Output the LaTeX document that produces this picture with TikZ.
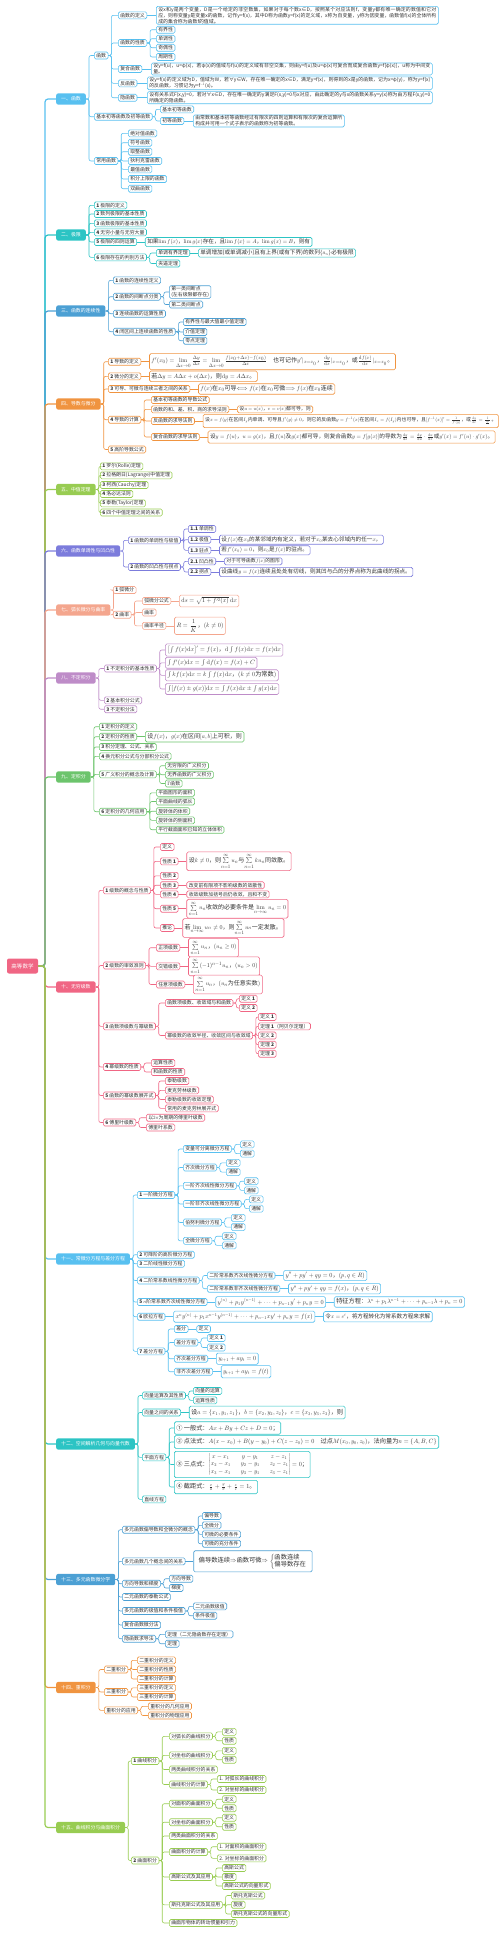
\documentclass[tikz,border=0pt]{standalone}
\usepackage{amsmath,amssymb}
\DeclareFontShape{OT1}{cmr}{m}{n}{<->cmr10}{}
\DeclareFontShape{OML}{cmm}{m}{it}{<->cmmi10}{}
\DeclareFontShape{OMS}{cmsy}{m}{n}{<->cmsy10}{}
\DeclareFontShape{OMX}{cmex}{m}{n}{<->cmex10}{}
\usepackage[no-math]{fontspec}
\setmainfont{Noto Sans CJK SC}
\XeTeXlinebreaklocale "zh"
\XeTeXlinebreakskip=0pt plus 1pt
\usetikzlibrary{positioning}
\definecolor{cA}{RGB}{88,192,240}
\definecolor{cB}{RGB}{44,196,196}
\definecolor{cC}{RGB}{76,160,212}
\definecolor{cD}{RGB}{240,148,64}
\definecolor{cE}{RGB}{152,204,82}
\definecolor{cF}{RGB}{124,124,220}
\definecolor{cG}{RGB}{244,166,142}
\definecolor{cH}{RGB}{190,140,200}
\definecolor{cI}{RGB}{108,196,108}
\definecolor{cJ}{RGB}{240,102,132}
\colorlet{bcol}{cA}
\begin{document}
\begin{tikzpicture}[x=1pt,y=-1pt,font=\fontsize{4.9}{5.9}\selectfont,node distance=8pt,
  root/.style={fill=cJ,text=white,rounded corners=2pt,minimum width=31pt,minimum height=15pt,font=\fontsize{5.5}{6.5}\selectfont},
  brn/.style={fill=#1,text=white,rounded corners=2pt,minimum height=10pt,inner xsep=5pt,anchor=west},
  nd/.style={draw=bcol,fill=white,rounded corners=1.5pt,line width=0.6pt,minimum height=7pt,inner xsep=2pt,inner ysep=0.8pt,anchor=west,text=black!80},
  tx/.style={nd,align=justify,text width=#1},
  mth/.style={nd,inner ysep=1.5pt,font=\fontsize{5.6}{6.6}\selectfont},
  meq/.style={mth,inner ysep=2pt,font=\fontsize{6.2}{7.2}\selectfont},
  msum/.style={mth,inner ysep=2pt,font=\fontsize{6}{7}\selectfont},
  lk/.style={draw=bcol,line width=0.6pt,rounded corners=2pt},
  rlk/.style={draw=#1,line width=1.2pt,rounded corners=3pt}]
\useasboundingbox (0,0) rectangle (503,1933);
\node[root] (root) at (22.5,966) {高等数学};
\coordinate (trunk) at (45,966);

% 一、函数
\colorlet{bcol}{cA}
\node[brn=cA] (b1) at (56,99) {一、函数};
\draw[rlk=cA] (root.east) -- (trunk) |- (b1.west);
\node[nd] (b1a) at (94,55.5) {函数};
\node[nd] (b1b) at (94,116.7) {基本初等函数及初等函数};
\node[nd] (b1c) at (94,161) {常用函数};
\foreach \k in {b1a,b1b,b1c} \draw[lk] (b1.east) -- ++(3,0) |- (\k.west);
\node[nd] (b1a1) at (118,15.3) {函数的定义};
\node[nd] (b1a2) at (118,43) {函数的性质};
\node[nd] (b1a3) at (118,69) {复合函数};
\node[nd] (b1a4) at (118,83.3) {反函数};
\node[nd] (b1a5) at (118,97.7) {隐函数};
\foreach \k in {b1a1,b1a2,b1a3,b1a4,b1a5} \draw[lk] (b1a.east) -- ++(3,0) |- (\k.west);
\node[tx=278pt] (b1a1t) at (156,15.3) {设x和y是两个变量，D是一个给定的非空数集，如果对于每个数x∈D，按照某个对应法则f，变量y都有唯一确定的数值和它对应，则称变量y是变量x的函数，记作y=f(x)，其中D称为函数y=f(x)的定义域，x称为自变量，y称为因变量，函数值f(x)的全体所构成的集合称为函数f的值域。};
\draw[lk] (b1a1) -- (b1a1t);
\foreach \i/\y/\t in {1/29.7/有界性,2/38.7/单调性,3/47.7/奇偶性,4/57/周期性}{
  \node[nd] (b1a2\i) at (156,\y) {\t};
  \draw[lk] (b1a2.east) -- ++(3,0) |- (b1a2\i.west);}
\node[tx=277pt] (b1a3t) at (151,69) {设y=f(u)，u=φ(x)，若φ(x)的值域与f(u)的定义域有非空交集，则由y=f(u)及u=φ(x)可复合而成复合函数y=f[φ(x)]，u称为中间变量。};
\node[tx=281pt] (b1a4t) at (147,83.3) {设y=f(x)的定义域为D，值域为W，若∀y∈W，存在唯一确定的x∈D，满足y=f(x)，则得到的x是y的函数，记为x=φ(y)，称为y=f(x)的反函数，习惯记为y=f$^{-1}$(x)。};
\node[tx=281pt] (b1a5t) at (147,97.7) {设有关系式F(x,y)=0，若对∀x∈D，存在唯一确定的y满足F(x,y)=0与x对应，由此确定的y与x的函数关系y=y(x)称为由方程F(x,y)=0所确定的隐函数。};
\foreach \k in {b1a3,b1a4,b1a5} \draw[lk] (\k) -- (\k t);
\node[nd] (b1b1) at (160,109.3) {基本初等函数};
\node[nd] (b1b2) at (160,121) {初等函数};
\foreach \k in {b1b1,b1b2} \draw[lk] (b1b.east) -- ++(3,0) |- (\k.west);
\node[tx=147pt] (b1b2t) at (193,121) {由常数和基本初等函数经过有限次的四则运算和有限次的复合运算所构成并可用一个式子表示的函数称为初等函数。};
\draw[lk] (b1b2) -- (b1b2t);
\foreach \i/\y/\t in {1/133.3/绝对值函数,2/142.7/符号函数,3/151.7/取整函数,4/161/狄利克雷函数,5/169.3/最值函数,6/179/积分上限的函数,7/188.7/双曲函数}{
  \node[nd] (b1c\i) at (128,\y) {\t};
  \draw[lk] (b1c.east) -- ++(3,0) |- (b1c\i.west);}

% 二、极限
\colorlet{bcol}{cB}
\node[brn=cB] (b2) at (56,235) {二、极限};
\draw[rlk=cB] (root.east) -- (trunk) |- (b2.west);
\foreach \i/\y/\t in {a/205.3/{\textbf{1} 极限的定义},b/214/{\textbf{2} 数列极限的基本性质},c/223.3/{\textbf{3} 函数极限的基本性质},d/232.3/{\textbf{4} 无穷小量与无穷大量},e/242/{\textbf{5} 极限的四则运算},f/257.3/{\textbf{6} 极限存在的判别方法}}{
  \node[nd] (b2\i) at (94,\y) {\t};
  \draw[lk] (b2.east) -- ++(3,0) |- (b2\i.west);}
\node[mth,right=of b2e] (b2et) {如果$\lim f(x)$，$\lim g(x)$存在，且$\lim f(x)=A$，$\lim g(x)=B$，则有};
\draw[lk] (b2e) -- (b2et);
\node[nd] (b2f1) at (156,253) {单调有界定理};
\node[nd] (b2f2) at (156,263.5) {夹逼定理};
\foreach \k in {b2f1,b2f2} \draw[lk] (b2f.east) -- ++(3,0) |- (\k.west);
\node[mth,right=of b2f1,inner ysep=1pt] (b2f1t) {单调增加(或单调减小)且有上界(或有下界)的数列$\{a_n\}$必有极限};
\draw[lk] (b2f1) -- (b2f1t);

% 三、函数的连续性
\colorlet{bcol}{cC}
\node[brn=cC] (b3) at (56,311) {三、函数的连续性};
\draw[rlk=cC] (root.east) -- (trunk) |- (b3.west);
\foreach \i/\y/\t in {a/280.3/{\textbf{1} 函数的连续性定义},b/296.7/{\textbf{2} 函数的间断点分类},c/313.7/{\textbf{3} 连续函数的运算性质},d/331.7/{\textbf{4} 闭区间上连续函数的性质}}{
  \node[nd] (b3\i) at (113,\y) {\t};
  \draw[lk] (b3.east) -- ++(3,0) |- (b3\i.west);}
\node[nd,align=left] (b3b1) at (169,292) {第一类间断点\\(左右极限都存在)};
\node[nd] (b3b2) at (169,304.5) {第二类间断点};
\foreach \k in {b3b1,b3b2} \draw[lk] (b3b.east) -- ++(3,0) |- (\k.west);
\foreach \i/\y/\t in {1/322/有界性与最大值最小值定理,2/332/介值定理,3/340.7/零点定理}{
  \node[nd] (b3d\i) at (183,\y) {\t};
  \draw[lk] (b3d.east) -- ++(3,0) |- (b3d\i.west);}

% 四、导数与微分
\colorlet{bcol}{cD}
\node[brn=cD] (b4) at (56,404) {四、导数与微分};
\draw[rlk=cD] (root.east) -- (trunk) |- (b4.west);
\foreach \i/\y/\t in {a/361.7/{\textbf{1} 导数的定义},b/376.3/{\textbf{2} 微分的定义},c/389/{\textbf{3} 可导、可微与连续三者之间的关系},d/419.7/{\textbf{4} 导数的计算},e/449.5/{\textbf{5} 高阶导数公式}}{
  \node[nd] (b4\i) at (108,\y) {\t};
  \draw[lk] (b4.east) -- ++(3,0) |- (b4\i.west);}
\node[msum,right=of b4a] (b4at) {$f'(x_0)=\lim\limits_{\Delta x\to 0}\frac{\Delta y}{\Delta x}=\lim\limits_{\Delta x\to 0}\frac{f(x_0+\Delta x)-f(x_0)}{\Delta x}$\quad 也可记作$y'|_{x=x_0}$，$\frac{\mathrm{d}y}{\mathrm{d}x}|_{x=x_0}$，或$\frac{\mathrm{d}f(x)}{\mathrm{d}x}|_{x=x_0}$。};
\node[msum,right=of b4b] (b4bt) {若$\Delta y=A\Delta x+o(\Delta x)$，则$\mathrm{d}y=A\Delta x$。};
\node[msum,right=of b4c] (b4ct) {$f(x)$在$x_0$可导$\Longleftrightarrow f(x)$在$x_0$可微$\Longrightarrow f(x)$在$x_0$连续};
\foreach \k in {b4a,b4b,b4c} \draw[lk] (\k) -- (\k t);
\foreach \i/\y/\t in {1/400/基本初等函数的导数公式,2/409.3/函数的和、差、积、商的求导法则,3/421/反函数的求导法则,4/437/复合函数的求导法则}{
  \node[nd] (b4d\i) at (151,\y) {\t};
  \draw[lk] (b4d.east) -- ++(3,0) |- (b4d\i.west);}
\node[nd,right=of b4d2] (b4d2t) {设$u=u(x)$，$v=v(x)$都可导，则};
\node[mth,right=of b4d3,inner ysep=2.5pt,font=\fontsize{4.9}{5.9}\selectfont] (b4d3t) {设$x=f(y)$在区间$I_y$内单调、可导且$f'(y)\neq0$，则它的反函数$y=f^{-1}(x)$在区间$I_x=f(I_y)$内也可导，且$[f^{-1}(x)]'=\frac{1}{f'(y)}$，或$\frac{\mathrm{d}y}{\mathrm{d}x}=\frac{1}{\frac{\mathrm{d}x}{\mathrm{d}y}}$。};
\node[mth,right=of b4d4,inner ysep=2.5pt] (b4d4t) {设$y=f(u)$，$u=g(x)$，且$f(u)$及$g(x)$都可导，则复合函数$y=f[g(x)]$的导数为$\frac{\mathrm{d}y}{\mathrm{d}x}=\frac{\mathrm{d}y}{\mathrm{d}u}\cdot\frac{\mathrm{d}u}{\mathrm{d}x}$或$y'(x)=f'(u)\cdot g'(x)$。};
\foreach \k in {b4d2,b4d3,b4d4} \draw[lk] (\k) -- (\k t);

% 五、中值定理
\colorlet{bcol}{cE}
\node[brn=cE] (b5) at (56,489.5) {五、中值定理};
\draw[rlk=cE] (root.east) -- (trunk) |- (b5.west);
\foreach \i/\y/\t in {a/466.3/{\textbf{1} 罗尔(Rolle)定理},b/475.3/{\textbf{2} 拉格朗日(Lagrange)中值定理},c/485/{\textbf{3} 柯西(Cauchy)定理},d/494/{\textbf{4} 洛必达法则},e/503.3/{\textbf{5} 泰勒(Taylor)定理},f/512.5/{\textbf{6} 四个中值定理之间的关系}}{
  \node[nd] (b5\i) at (100,\y) {\t};
  \draw[lk] (b5.east) -- ++(3,0) |- (b5\i.west);}

% 六、函数单调性与凹凸性
\colorlet{bcol}{cF}
\node[brn=cF] (b6) at (56,551) {六、函数单调性与凹凸性};
\draw[rlk=cF] (root.east) -- (trunk) |- (b6.west);
\node[nd] (b6a) at (128,540.3) {\textbf{1} 函数的单调性与极值};
\node[nd] (b6b) at (128,567) {\textbf{2} 函数的凹凸性与拐点};
\foreach \k in {b6a,b6b} \draw[lk] (b6.east) -- ++(3,0) |- (\k.west);
\foreach \i/\y/\t in {1/529/{\textbf{1.1} 单调性},2/539.7/{\textbf{1.2} 极值},3/550.3/{\textbf{1.3} 驻点}}{
  \node[nd] (b6a\i) at (188,\y) {\t};
  \draw[lk] (b6a.east) -- ++(3,0) |- (b6a\i.west);}
\foreach \i/\y/\t in {1/561.3/{\textbf{2.1} 凹凸性},2/572/{\textbf{2.2} 拐点}}{
  \node[nd] (b6b\i) at (188,\y) {\t};
  \draw[lk] (b6b.east) -- ++(3,0) |- (b6b\i.west);}
\node[mth,right=of b6a2] (b6a2t) {设$f(x)$在$x_0$的某邻域内有定义，若对于$x_0$某去心邻域内的任一$x$，};
\node[mth,right=of b6a3] (b6a3t) {若$f'(x_0)=0$，则$x_0$是$f(x)$的驻点。};
\node[nd,right=of b6b1] (b6b1t) {对于可导函数$f(x)$的图形};
\node[mth,right=of b6b2] (b6b2t) {设曲线$y=f(x)$连续且处处有切线，则其凹与凸的分界点称为此曲线的拐点。};
\foreach \k in {b6a2,b6a3,b6b1,b6b2} \draw[lk] (\k) -- (\k t);

% 七、弧长微分与曲率
\colorlet{bcol}{cG}
\node[brn=cG] (b7) at (56,610) {七、弧长微分与曲率};
\draw[rlk=cG] (root.east) -- (trunk) |- (b7.west);
\node[nd] (b7a) at (113,590) {\textbf{1} 弧微分};
\node[nd] (b7b) at (113,614.7) {\textbf{2} 曲率};
\foreach \k in {b7a,b7b} \draw[lk] (b7.east) -- ++(3,0) |- (\k.west);
\foreach \i/\y/\t in {1/601/弧微分公式,2/612.5/曲率,3/625.8/曲率半径}{
  \node[nd] (b7b\i) at (142,\y) {\t};
  \draw[lk] (b7b.east) -- ++(3,0) |- (b7b\i.west);}
\node[meq,right=of b7b1] (b7b1t) {$\mathrm{d}s=\sqrt{1+f'^2(x)}\,\mathrm{d}x$};
\node[meq,right=of b7b3,inner ysep=2.5pt] (b7b3t) {$R=\dfrac{1}{K}$，$(k\neq0)$};
\foreach \k in {b7b1,b7b3} \draw[lk] (\k) -- (\k t);

% 八、不定积分
\colorlet{bcol}{cH}
\node[brn=cH] (b8) at (56,678) {八、不定积分};
\draw[rlk=cH] (root.east) -- (trunk) |- (b8.west);
\foreach \i/\y/\t in {a/668.5/{\textbf{1} 不定积分的基本性质},b/700.3/{\textbf{2} 基本积分公式},c/709.2/{\textbf{3} 不定积分法}}{
  \node[nd] (b8\i) at (104,\y) {\t};
  \draw[lk] (b8.east) -- ++(3,0) |- (b8\i.west);}
\node[meq] (b8a1) at (165,650) {$\left[\int f(x)\mathrm{d}x\right]'=f(x)$，$\mathrm{d}\int f(x)\mathrm{d}x=f(x)\mathrm{d}x$};
\node[meq] (b8a2) at (165,662.8) {$\int f'(x)\mathrm{d}x=\int\mathrm{d}f(x)=f(x)+C$};
\node[meq] (b8a3) at (165,675.3) {$\int kf(x)\mathrm{d}x=k\int f(x)\mathrm{d}x$，$(k\neq0$为常数$)$};
\node[meq] (b8a4) at (165,689) {$\int[f(x)\pm g(x)]\mathrm{d}x=\int f(x)\mathrm{d}x\pm\int g(x)\mathrm{d}x$};
\foreach \k in {b8a1,b8a2,b8a3,b8a4} \draw[lk] (b8a.east) -- ++(3,0) |- (\k.west);

% 九、定积分
\colorlet{bcol}{cI}
\node[brn=cI] (b9) at (56,777) {九、定积分};
\draw[rlk=cI] (root.east) -- (trunk) |- (b9.west);
\foreach \i/\y/\t in {a/726.7/{\textbf{1} 定积分的定义},b/736.7/{\textbf{2} 定积分的性质},c/747/{\textbf{3} 积分定理、公式、关系},d/756.3/{\textbf{4} 换元积分公式与分部积分公式},e/774.3/{\textbf{5} 广义积分的概念及计算},f/811.7/{\textbf{6} 定积分的几何应用}}{
  \node[nd] (b9\i) at (99,\y) {\t};
  \draw[lk] (b9.east) -- ++(3,0) |- (b9\i.west);}
\node[msum,right=of b9b] (b9bt) {设$f(x)$，$g(x)$在区间$[a,b]$上可积，则};
\draw[lk] (b9b) -- (b9bt);
\foreach \i/\y/\t in {1/765.7/无穷限的广义积分,2/774.7/无界函数的广义积分,3/783.5/$\Gamma$函数}{
  \node[nd] (b9e\i) at (165,\y) {\t};
  \draw[lk] (b9e.east) -- ++(3,0) |- (b9e\i.west);}
\foreach \i/\y/\t in {1/792.8/平面图形的面积,2/801.5/平面曲线的弧长,3/811.2/旋转体的体积,4/820.3/旋转体的侧面积,5/829.7/平行截面面积已知的立体体积}{
  \node[nd] (b9f\i) at (156,\y) {\t};
  \draw[lk] (b9f.east) -- ++(3,0) |- (b9f\i.west);}

% 十、无穷级数
\colorlet{bcol}{cJ}
\node[brn=cJ] (b10) at (56,987) {十、无穷级数};
\draw[rlk=cJ] (root.east) -- (trunk) |- (b10.west);
\foreach \i/\y/\t in {a/890.3/{\textbf{1} 级数的概念与性质},b/965.5/{\textbf{2} 级数的审敛准则},c/1026.3/{\textbf{3} 函数项级数与幂级数},d/1067/{\textbf{4} 幂级数的性质},e/1095.5/{\textbf{5} 函数的幂级数展开式},f/1122.5/{\textbf{6} 傅里叶级数}}{
  \node[nd] (b10\i) at (103,\y) {\t};
  \draw[lk] (b10.east) -- ++(3,0) |- (b10\i.west);}
\foreach \i/\y/\t in {1/847/定义,2/861.3/性质 \textbf{1},3/875.8/性质 \textbf{2},4/885.2/性质 \textbf{3},5/894.3/性质 \textbf{4},6/908.7/性质 \textbf{5},7/928/推论}{
  \node[nd] (b10a\i) at (160,\y) {\t};
  \draw[lk] (b10a.east) -- ++(3,0) |- (b10a\i.west);}
\node[msum,right=of b10a2] (b10a2t) {设$k\neq0$，则$\sum\limits_{n=1}^{\infty}u_n$与$\sum\limits_{n=1}^{\infty}ku_n$同敛散。};
\node[nd,right=of b10a4] (b10a4t) {改变前有限项不影响级数的敛散性};
\node[nd,right=of b10a5] (b10a5t) {收敛级数加括号后仍收敛，且和不变};
\node[msum,right=of b10a6] (b10a6t) {$\sum\limits_{n=1}^{\infty}u_n$收敛的必要条件是$\lim\limits_{n\to\infty}u_n=0$};
\node[msum,right=of b10a7] (b10a7t) {若$\lim\limits_{n\to\infty}u_n\neq0$，则$\sum\limits_{n=1}^{\infty}u_n$一定发散。};
\foreach \k in {b10a2,b10a4,b10a5,b10a6,b10a7} \draw[lk] (\k) -- (\k t);
\foreach \i/\y/\t in {1/947.7/正项级数,2/966.3/交错级数,3/984.5/任意项级数}{
  \node[nd] (b10b\i) at (156,\y) {\t};
  \draw[lk] (b10b.east) -- ++(3,0) |- (b10b\i.west);}
\node[msum,right=of b10b1] (b10b1t) {$\sum\limits_{n=1}^{\infty}u_n$，$(u_n\geq0)$};
\node[msum,right=of b10b2] (b10b2t) {$\sum\limits_{n=1}^{\infty}(-1)^{n-1}u_n$，$(u_n>0)$};
\node[msum,right=of b10b3] (b10b3t) {$\sum\limits_{n=1}^{\infty}u_n$，$(u_n$为任意实数$)$};
\foreach \k in {b10b1,b10b2,b10b3} \draw[lk] (\k) -- (\k t);
\node[nd] (b10c1) at (165,1003) {函数项级数、收敛域与和函数};
\node[nd] (b10c2) at (165,1035.5) {幂级数的收敛半径、收敛区间与收敛域};
\foreach \k in {b10c1,b10c2} \draw[lk] (b10c.east) -- ++(3,0) |- (\k.west);
\foreach \i/\y/\t in {1/998.7/定义 \textbf{1},2/1008/定义 \textbf{2}}{
  \node[nd] (b10c1\i) at (239,\y) {\t};
  \draw[lk] (b10c1.east) -- ++(3,0) |- (b10c1\i.west);}
\foreach \i/\y/\t in {1/1017/定义 \textbf{1},2/1026.3/定理 \textbf{1}（阿贝尔定理）,3/1035.5/定义 \textbf{2},4/1044.7/定理 \textbf{2},5/1053.7/定理 \textbf{3}}{
  \node[nd] (b10c2\i) at (258,\y) {\t};
  \draw[lk] (b10c2.east) -- ++(3,0) |- (b10c2\i.west);}
\foreach \i/\y/\t in {1/1063/运算性质,2/1072/和函数的性质}{
  \node[nd] (b10d\i) at (151,\y) {\t};
  \draw[lk] (b10d.east) -- ++(3,0) |- (b10d\i.west);}
\foreach \i/\y/\t in {1/1081/泰勒级数,2/1090.3/麦克劳林级数,3/1099.5/泰勒级数的收敛定理,4/1108.3/常用的麦克劳林展开式}{
  \node[nd] (b10e\i) at (165,\y) {\t};
  \draw[lk] (b10e.east) -- ++(3,0) |- (b10e\i.west);}
\foreach \i/\y/\t in {1/1117.7/以$2\pi$为周期的傅里叶级数,2/1127.5/傅里叶系数}{
  \node[nd] (b10f\i) at (146,\y) {\t};
  \draw[lk] (b10f.east) -- ++(3,0) |- (b10f\i.west);}

% 十一、常微分方程与差分方程
\colorlet{bcol}{cA}
\node[brn=cA] (b11) at (56,1259) {十一、常微分方程与差分方程};
\draw[rlk=cA] (root.east) -- (trunk) |- (b11.west);
\foreach \i/\y/\t in {a/1195/{\textbf{1} 一阶微分方程},b/1254.7/{\textbf{2} 可降阶的高阶微分方程},c/1263.7/{\textbf{3} 二阶线性微分方程},d/1280.5/{\textbf{4} 二阶常系数线性微分方程},e/1302/{\textbf{5} $n$阶常系数齐次线性微分方程},f/1316.7/{\textbf{6} 欧拉方程},g/1351.3/{\textbf{7} 差分方程}}{
  \node[nd] (b11\i) at (137,\y) {\t};
  \draw[lk] (b11.east) -- ++(3,0) |- (b11\i.west);}
\foreach \i/\y/\t/\cx in {1/1149/变量可分离微分方程/240,2/1167.5/齐次微分方程/226,3/1185.8/一阶齐次线性微分方程/244,4/1204/一阶非齐次线性微分方程/249,5/1222.5/伯努利微分方程/231,6/1240.8/全微分方程/222}{
  \node[nd] (b11a\i) at (183,\y) {\t};
  \draw[lk] (b11a.east) -- ++(3,0) |- (b11a\i.west);
  \node[nd] (b11a\i d) at (\cx,\y-4.6) {定义};
  \node[nd] (b11a\i g) at (\cx,\y+4.6) {通解};
  \foreach \k in {d,g} \draw[lk] (b11a\i.east) -- ++(3,0) |- (b11a\i\k.west);}
\node[nd] (b11d1) at (207,1275.5) {二阶常系数齐次线性微分方程};
\node[nd] (b11d2) at (207,1288.7) {二阶常系数非齐次线性微分方程};
\foreach \k in {b11d1,b11d2} \draw[lk] (b11d.east) -- ++(3,0) |- (\k.west);
\node[meq,right=of b11d1] (b11d1t) {$y''+py'+qy=0$，$(p,q\in R)$};
\node[meq,right=of b11d2] (b11d2t) {$y''+py'+qy=f(x)$，$(p,q\in R)$};
\foreach \k in {b11d1,b11d2} \draw[lk] (\k) -- (\k t);
\node[meq,right=of b11e] (b11et) {$y^{(n)}+p_1y^{(n-1)}+\cdots+p_{n-1}y'+p_ny=0$};
\node[meq,right=of b11et] (b11eu) {特征方程：$\lambda^n+p_1\lambda^{n-1}+\cdots+p_{n-1}\lambda+p_n=0$};
\node[meq,right=of b11f] (b11ft) {$x^ny^{(n)}+p_1x^{n-1}y^{(n-1)}+\cdots+p_{n-1}xy'+p_ny=f(x)$};
\node[mth,right=of b11ft,inner ysep=2.5pt] (b11fu) {令$x=e^t$，将方程转化为常系数方程来求解};
\draw[lk] (b11e) -- (b11et) -- (b11eu);
\draw[lk] (b11f) -- (b11ft) -- (b11fu);
\foreach \i/\y/\t in {1/1329/差分,2/1342.5/差分方程,3/1358.7/齐次差分方程,4/1371.7/非齐次差分方程}{
  \node[nd] (b11g\i) at (174,\y) {\t};
  \draw[lk] (b11g.east) -- ++(3,0) |- (b11g\i.west);}
\node[nd,right=of b11g1] (b11g1t) {定义};
\draw[lk] (b11g1) -- (b11g1t);
\foreach \i/\y in {1/1338,2/1347.5}{
  \node[nd] (b11g2\i) at (207,\y) {定义 \textbf{\i}};
  \draw[lk] (b11g2.east) -- ++(3,0) |- (b11g2\i.west);}
\node[meq,right=of b11g3,inner ysep=3pt] (b11g3t) {$y_{t+1}+ay_t=0$};
\node[meq,right=of b11g4,inner ysep=3pt] (b11g4t) {$y_{t+1}+ay_t=f(t)$};
\foreach \k in {b11g3,b11g4} \draw[lk] (\k) -- (\k t);

% 十二、空间解析几何与向量代数
\colorlet{bcol}{cB}
\node[brn=cB] (b12) at (56,1444) {十二、空间解析几何与向量代数};
\draw[rlk=cB] (root.east) -- (trunk) |- (b12.west);
\foreach \i/\y/\t in {a/1395.5/向量运算及其性质,b/1412.5/向量之间的关系,c/1457.3/平面方程,d/1499.3/直线方程}{
  \node[nd] (b12\i) at (142,\y) {\t};
  \draw[lk] (b12.east) -- ++(3,0) |- (b12\i.west);}
\foreach \i/\y/\t in {1/1391/向量的运算,2/1400.3/运算性质}{
  \node[nd] (b12a\i) at (193,\y) {\t};
  \draw[lk] (b12a.east) -- ++(3,0) |- (b12a\i.west);}
\node[meq,right=of b12b,inner ysep=3pt] (b12bt) {设$a=\{x_1,y_1,z_1\}$，$b=\{x_2,y_2,z_2\}$，$c=\{x_3,y_3,z_3\}$，则};
\draw[lk] (b12b) -- (b12bt);
\node[meq,inner ysep=3pt] (b12c1) at (174,1428) {① 一般式：$Ax+By+Cz+D=0$；};
\node[meq,inner ysep=3pt] (b12c2) at (174,1442) {② 点法式：$A(x-x_0)+B(y-y_0)+C(z-z_0)=0$\quad 过点$M(x_0,y_0,z_0)$，法向量为$n=\{A,B,C\}$};
\node[meq] (b12c3) at (174,1464.5) {③ 三点式：$\begin{vmatrix}x-x_1&y-y_1&z-z_1\\x_2-x_1&y_2-y_1&z_2-z_1\\x_3-x_1&y_3-y_1&z_3-z_1\end{vmatrix}=0$；};
\node[meq,inner ysep=3pt] (b12c4) at (174,1487) {④ 截距式：$\frac{x}{a}+\frac{y}{b}+\frac{z}{c}=1$。};
\foreach \k in {b12c1,b12c2,b12c3,b12c4} \draw[lk] (b12c.east) -- ++(3,0) |- (\k.west);

% 十三、多元函数微分学
\colorlet{bcol}{cC}
\node[brn=cC] (b13) at (56,1579.5) {十三、多元函数微分学};
\draw[rlk=cC] (root.east) -- (trunk) |- (b13.west);
\foreach \i/\y/\t in {a/1529.7/多元函数偏导数和全微分的概念,b/1561.3/多元函数几个概念间的关系,c/1583.7/方向导数和梯度,d/1597/二元函数的泰勒公式,e/1611/多元函数的极值和条件极值,f/1625/复合函数微分法,g/1638.7/隐函数求导法}{
  \node[nd] (b13\i) at (122,\y) {\t};
  \draw[lk] (b13.east) -- ++(3,0) |- (b13\i.west);}
\foreach \i/\y/\t in {1/1516/偏导数,2/1525.3/全微分,3/1534.3/可微的必要条件,4/1543.7/可微的充分条件}{
  \node[nd] (b13a\i) at (202,\y) {\t};
  \draw[lk] (b13a.east) -- ++(3,0) |- (b13a\i.west);}
\node[mth,right=of b13b,font=\fontsize{6.3}{7.6}\selectfont,inner ysep=3pt,inner xsep=5pt] (b13bt) {偏导数连续$\Rightarrow$函数可微$\Rightarrow\left\{\begin{array}{@{}l@{}}\text{函数连续}\\\text{偏导数存在}\end{array}\right.$};
\draw[lk] (b13b) -- (b13bt);
\foreach \i/\y/\t in {1/1578.7/方向导数,2/1588/梯度}{
  \node[nd] (b13c\i) at (169,\y) {\t};
  \draw[lk] (b13c.east) -- ++(3,0) |- (b13c\i.west);}
\foreach \i/\y/\t in {1/1606.3/二元函数极值,2/1615.7/条件极值}{
  \node[nd] (b13e\i) at (193,\y) {\t};
  \draw[lk] (b13e.east) -- ++(3,0) |- (b13e\i.west);}
\foreach \i/\y/\t in {1/1634.3/定理（二元隐函数存在定理）,2/1643.7/定理}{
  \node[nd] (b13g\i) at (165,\y) {\t};
  \draw[lk] (b13g.east) -- ++(3,0) |- (b13g\i.west);}

% 十四、重积分
\colorlet{bcol}{cD}
\node[brn=cD] (b14) at (56,1687.5) {十四、重积分};
\draw[rlk=cD] (root.east) -- (trunk) |- (b14.west);
\foreach \i/\y/\t in {a/1669.5/二重积分,b/1692/三重积分,c/1710.3/重积分的应用}{
  \node[nd] (b14\i) at (104,\y) {\t};
  \draw[lk] (b14.east) -- ++(3,0) |- (b14\i.west);}
\foreach \i/\y/\t in {1/1660.3/二重积分的定义,2/1669.5/二重积分的性质,3/1679/二重积分的计算}{
  \node[nd] (b14a\i) at (137,\y) {\t};
  \draw[lk] (b14a.east) -- ++(3,0) |- (b14a\i.west);}
\foreach \i/\y/\t in {1/1687.8/三重积分的定义,2/1697/三重积分的计算}{
  \node[nd] (b14b\i) at (137,\y) {\t};
  \draw[lk] (b14b.east) -- ++(3,0) |- (b14b\i.west);}
\foreach \i/\y/\t in {1/1706.3/重积分的几何应用,2/1715.5/重积分的物理应用}{
  \node[nd] (b14c\i) at (148,\y) {\t};
  \draw[lk] (b14c.east) -- ++(3,0) |- (b14c\i.west);}

% 十五、曲线积分与曲面积分
\colorlet{bcol}{cE}
\node[brn=cE] (b15) at (56,1827.5) {十五、曲线积分与曲面积分};
\draw[rlk=cE] (root.east) -- (trunk) |- (b15.west);
\node[nd] (b15a) at (131,1761) {\textbf{1} 曲线积分};
\node[nd] (b15b) at (131,1860.5) {\textbf{2} 曲面积分};
\foreach \k in {b15a,b15b} \draw[lk] (b15.east) -- ++(3,0) |- (\k.west);
\foreach \i/\y/\t in {1/1736.3/对弧长的曲线积分,2/1755.3/对坐标的曲线积分,3/1769.5/两类曲线积分的关系,4/1784.5/曲线积分的计算}{
  \node[nd] (b15a\i) at (169,\y) {\t};
  \draw[lk] (b15a.east) -- ++(3,0) |- (b15a\i.west);}
\foreach \i/\y in {1/1736.3,2/1755.3}{
  \node[nd] (b15a\i d) at (222,\y-4.4) {定义};
  \node[nd] (b15a\i x) at (222,\y+4.4) {性质};
  \foreach \k in {d,x} \draw[lk] (b15a\i.east) -- ++(3,0) |- (b15a\i\k.west);}
\foreach \i/\y/\t in {1/1779/1. 对弧长的曲线积分,2/1790/2. 对坐标的曲线积分}{
  \node[nd] (b15a4\i) at (217,\y) {\t};
  \draw[lk] (b15a4.east) -- ++(3,0) |- (b15a4\i.west);}
\foreach \i/\y/\t in {1/1803.7/对面积的曲面积分,2/1822.2/对坐标的曲面积分,3/1836/两类曲面积分的关系,4/1852/曲面积分的计算,5/1877/高斯公式及其应用,6/1904.8/斯托克斯公式及其应用,7/1923/曲面形物体的转动惯量和引力}{
  \node[nd] (b15b\i) at (169,\y) {\t};
  \draw[lk] (b15b.east) -- ++(3,0) |- (b15b\i.west);}
\foreach \i/\y in {1/1803.7,2/1822.2}{
  \node[nd] (b15b\i d) at (222,\y-4.5) {定义};
  \node[nd] (b15b\i x) at (222,\y+4.5) {性质};
  \foreach \k in {d,x} \draw[lk] (b15b\i.east) -- ++(3,0) |- (b15b\i\k.west);}
\foreach \i/\y/\t in {1/1846.7/1. 对面积的曲面积分,2/1858.3/2. 对坐标的曲面积分}{
  \node[nd] (b15b4\i) at (217,\y) {\t};
  \draw[lk] (b15b4.east) -- ++(3,0) |- (b15b4\i.west);}
\foreach \i/\y/\t in {1/1868/高斯公式,2/1877/散度,3/1886/高斯公式的向量形式}{
  \node[nd] (b15b5\i) at (222,\y) {\t};
  \draw[lk] (b15b5.east) -- ++(3,0) |- (b15b5\i.west);}
\foreach \i/\y/\t in {1/1895.5/斯托克斯公式,2/1904.7/旋度,3/1914/斯托克斯公式的向量形式}{
  \node[nd] (b15b6\i) at (231,\y) {\t};
  \draw[lk] (b15b6.east) -- ++(3,0) |- (b15b6\i.west);}
\end{tikzpicture}
\end{document}
